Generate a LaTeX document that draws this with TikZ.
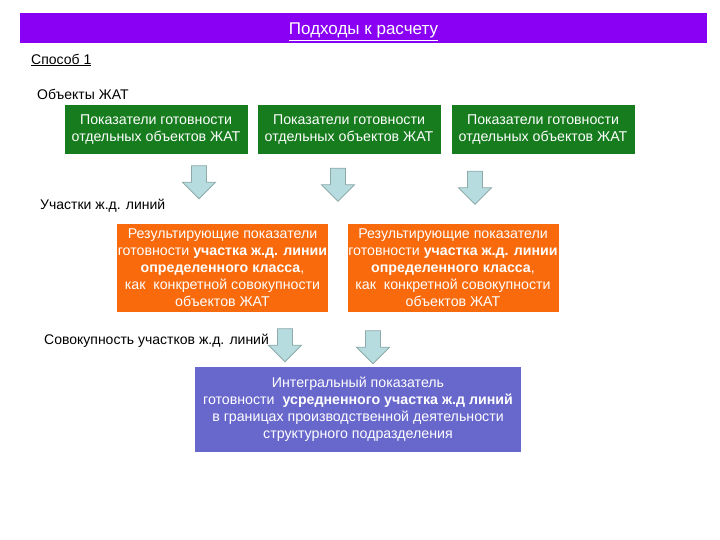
\documentclass[tikz,border=0pt]{standalone}
\usepackage{fontspec}
\setmainfont{Liberation Sans}
\usetikzlibrary{shapes.arrows}
\usetikzlibrary{positioning}

\definecolor{bannerviolet}{HTML}{8A00F5}
\definecolor{boxgreen}{HTML}{167C1E}
\definecolor{boxorange}{HTML}{F86A0C}
\definecolor{boxblue}{HTML}{6867CC}
\definecolor{arrowfill}{HTML}{B7DCDF}
\definecolor{arrowline}{HTML}{8DAAAA}

\begin{document}
\begin{tikzpicture}[
    x=1pt, y=-1pt,
    box/.style={rectangle, inner sep=0pt, align=center, text=white,
        font=\fontsize{14.2}{17}\selectfont},
    greenbox/.style={box, fill=boxgreen, minimum width=183pt, minimum height=49pt},
    orangebox/.style={box, fill=boxorange, minimum width=211pt, minimum height=88pt},
    bluebox/.style={box, fill=boxblue, minimum width=326pt, minimum height=85pt},
    label/.style={anchor=west, inner sep=0pt, font=\fontsize{14}{16}\selectfont},
    downarrow/.style={single arrow, shape border rotate=270, fill=arrowfill,
        draw=arrowline, line width=0.8pt, inner sep=7pt,
        minimum height=33pt, minimum width=33pt,
        single arrow head extend=9pt, single arrow head indent=0pt}
]

\useasboundingbox (0,0) rectangle (720,540);

% --- Title banner ---
\node[rectangle, fill=bannerviolet, minimum width=687pt, minimum height=30pt,
    inner sep=0pt] (banner) at (363.5,28) {};
\node[anchor=base, inner sep=0pt, text=white, font=\fontsize{17}{19}\selectfont]
    (title) at (363.5,35) {\underline{Подходы к расчету}};

% --- Row labels ---
\node[label] (way) at (31,60) {\underline{Способ 1}};
\node[label] (objects) at (37,94) {Объекты ЖАТ};
\node[label] (sections) at (40,206) {Участки ж.д. линий};
\node[label] (totality) at (44,341) {Совокупность участков ж.д. линий};

% --- Green boxes ---
\foreach \i/\x in {1/156, 2/349, 3/543}
    \node[greenbox] (g\i) at (\x,130)
        {Показатели готовности\\отдельных объектов ЖАТ};

% --- Arrows, first row ---
\node[downarrow] (a1) at (199,178.5) {};
\node[downarrow] (a2) at (338,181) {};
\node[downarrow] (a3) at (475,184) {};

% --- Orange boxes ---
\foreach \i/\x in {1/222.5, 2/453}
    \node[orangebox] (o\i) at (\x,268)
        {Результирующие показатели\\готовности \textbf{участка ж.д. линии}\\
         \textbf{определенного класса},\\как~ конкретной совокупности\\объектов ЖАТ};

% --- Arrows, second row ---
\node[downarrow] (a4) at (285,341.5) {};
\node[downarrow] (a5) at (373,343.5) {};

% --- Integral box ---
\node[bluebox] (integral) at (358,409.5)
    {Интегральный показатель\\готовности~ \textbf{усредненного участка ж.д линий}\\
     в границах производственной деятельности\\структурного подразделения};

\end{tikzpicture}
\end{document}
